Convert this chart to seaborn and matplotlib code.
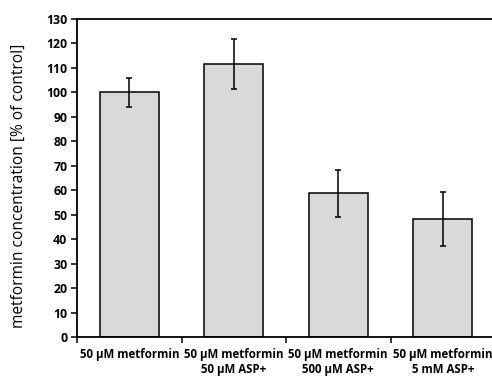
import matplotlib
matplotlib.use("Agg")
import matplotlib.pyplot as plt
import seaborn as sns
import pandas as pd
import numpy as np

categories = ["50 µM metformin", "50 µM metformin\n50 µM ASP+",
              "50 µM metformin\n500 µM ASP+", "50 µM metformin\n5 mM ASP+"]
values = [100.0, 111.5, 58.7, 48.2]
errors = [6.0, 10.3, 9.6, 11.0]
yticks = list(range(0, 131, 10))

sns.set_theme(style="white")
plt.rcParams["font.family"] = ["Open Sans", "DejaVu Sans"]
plt.rcParams["text.color"] = "black"
plt.rcParams["axes.labelcolor"] = "black"
plt.rcParams["xtick.color"] = "black"
plt.rcParams["ytick.color"] = "black"

df = pd.DataFrame({"group": categories, "value": values})

fig = plt.figure(figsize=(4.92, 3.76), dpi=100)
ax = fig.add_axes([77 / 492, 39 / 376, 418 / 492, 318 / 376])

sns.barplot(data=df, x="group", y="value", order=categories, color="#d9d9d9",
            edgecolor="black", linewidth=1.1, width=0.56, errorbar=None,
            saturation=1, ax=ax)
ax.errorbar(np.arange(len(values)), values, yerr=errors, fmt="none",
            ecolor="black", elinewidth=1.1, capsize=1.9, capthick=1.1)

ax.set_xlim(-0.5, len(categories) - 0.5)
ax.set_ylim(0, 130)
ax.set_yticks(yticks)
ax.set_yticklabels([str(t) for t in yticks], fontsize=8.8, fontweight="bold")

# Category labels without tick marks; tick marks sit at the category boundaries
ax.set_xticks(np.arange(len(categories)))
ax.set_xticklabels(categories, fontsize=8.3, fontweight="bold", linespacing=1.2)
ax.set_xticks(np.arange(-0.5, len(categories), 1.0), minor=True)
ax.tick_params(axis="x", which="major", length=0, pad=8)
ax.tick_params(axis="x", which="minor", length=4, width=1.1,
               direction="out", bottom=True)
ax.tick_params(axis="y", length=4, width=1.1, direction="out",
               left=True, pad=3)

ax.set_xlabel("")
ax.set_ylabel("metformin concentration [% of control]", fontsize=11.2)
ax.yaxis.set_label_coords(-0.121, 0.475)

for side in ["left", "bottom", "top", "right"]:
    ax.spines[side].set_visible(True)
    ax.spines[side].set_color("black")
    ax.spines[side].set_linewidth(1.3)

fig.savefig("out.png", dpi=100)
